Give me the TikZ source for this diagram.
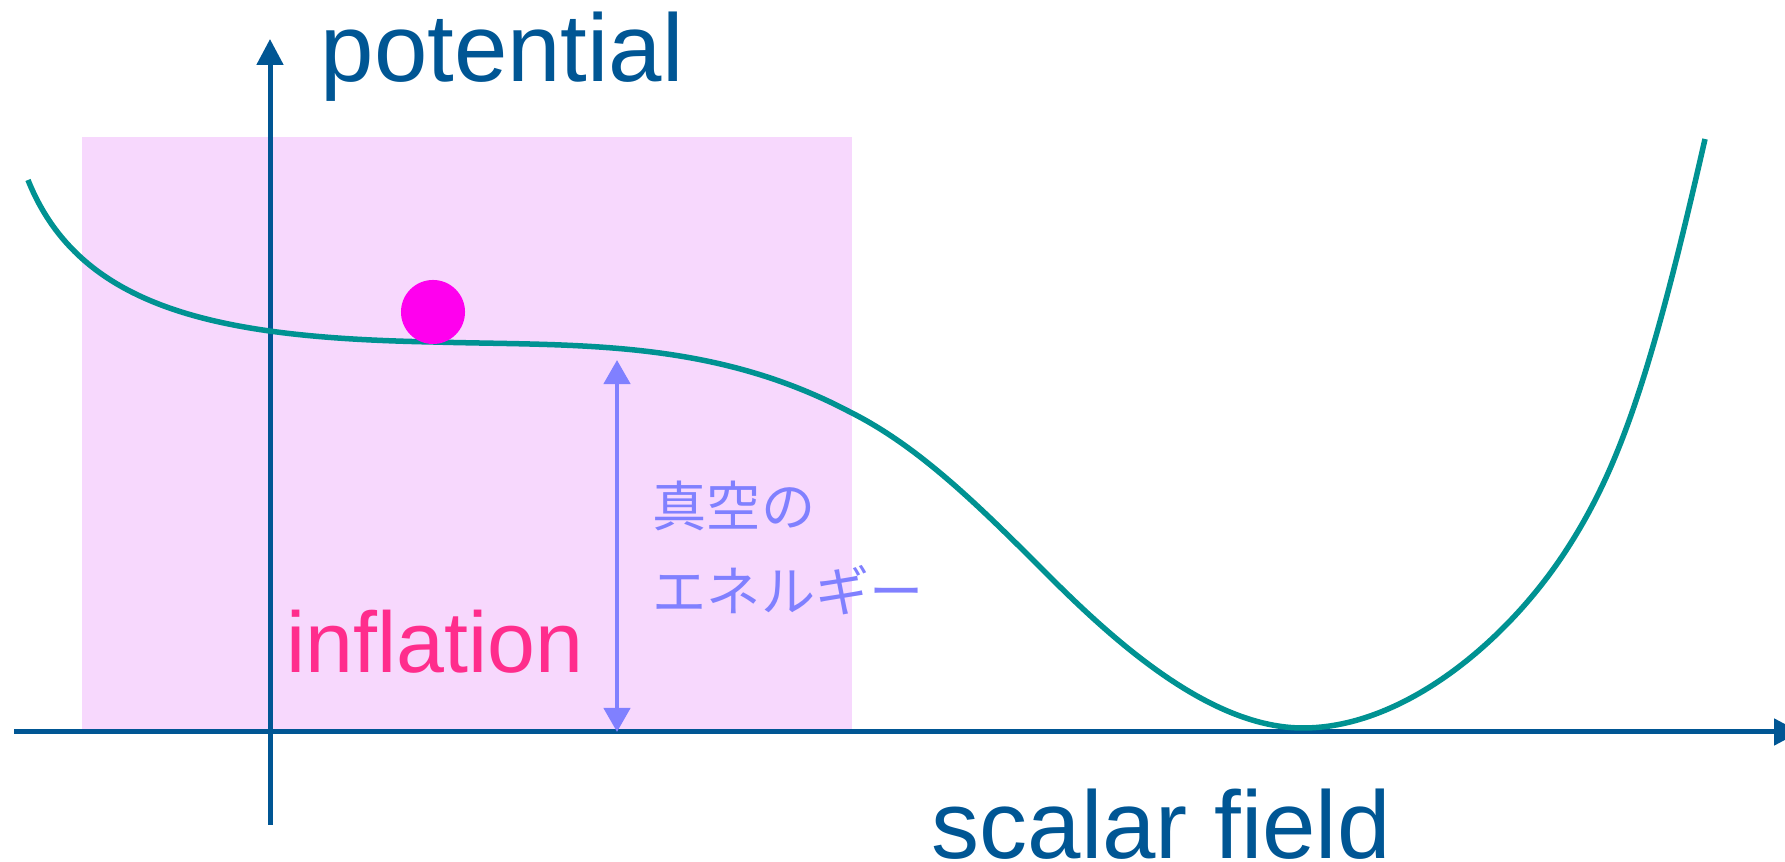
\documentclass[tikz,border=0pt]{standalone}
\usepackage{fontspec}
\setmainfont{Liberation Sans}
\newfontfamily\jpfont{Noto Sans CJK JP}
\usetikzlibrary{arrows.meta}

\definecolor{axisblue}{RGB}{0,86,148}
\definecolor{curveteal}{RGB}{0,146,146}
\definecolor{boxpink}{RGB}{247,216,253}
\definecolor{ballmag}{RGB}{255,0,238}
\definecolor{inflpink}{RGB}{255,45,140}
\definecolor{energyblue}{RGB}{128,128,255}

\begin{document}
\begin{tikzpicture}[
  x=0.01cm, y=-0.01cm,
  every node/.style={inner sep=0pt},
  axis/.style={draw=axisblue, line width=0.05cm, -{Triangle[length=0.26cm, width=0.26cm]}},
  potline/.style={draw=curveteal, line width=0.055cm},
  gap/.style={draw=energyblue, line width=0.045cm,
    {Triangle[length=0.24cm, width=0.26cm]}-{Triangle[length=0.24cm, width=0.26cm]}},
  axlabel/.style={font=\fontsize{27.3}{32}\selectfont, text=axisblue},
  inflabel/.style={font=\fontsize{24.5}{29}\selectfont, text=inflpink},
  jplabel/.style={font=\jpfont\fontsize{15.4}{24.2}\selectfont, text=energyblue, align=left},
  ball/.style={circle, fill=ballmag, minimum size=0.64cm}]

  \useasboundingbox (0,0) rectangle (1785,862);

  % inflation region
  \fill[boxpink] (82,137) rectangle (852,732);

  \coordinate (ybot)   at (270,825);
  \coordinate (ytop)   at (270,39);
  \coordinate (xleft)  at (14,732);
  \coordinate (xright) at (1800,732);

  \draw[axis] (ybot) -- (ytop);
  \draw[axis] (xleft) -- (xright);

  \node[axlabel, anchor=base west] (potential) at (320,82) {potential};
  \node[axlabel, anchor=base west] (field) at (931,859) {scalar field};
  \node[inflabel, anchor=base west] (infl) at (286,673) {inflation};

  % potential curve
  \draw[potline] (28,180) .. controls (80,310) and (220,338) .. (433,342)
    .. controls (573,346) and (710,338) .. (850,412)
    .. controls (920,447) and (980,507) .. (1050,577)
    .. controls (1120,647) and (1213,728) .. (1303,728)
    .. controls (1403,728) and (1507,642) .. (1567,549)
    .. controls (1620,467) and (1652,372) .. (1705,139);

  \node[ball] (field ball) at (433,312) {};

  % vacuum energy
  \coordinate (etop) at (617,360);
  \coordinate (ebot) at (617,732);
  \draw[gap] (etop) -- (ebot);
  \node[jplabel, anchor=north west] (vacuum) at (652,480) {真空の\\エネルギー};
\end{tikzpicture}
\end{document}
